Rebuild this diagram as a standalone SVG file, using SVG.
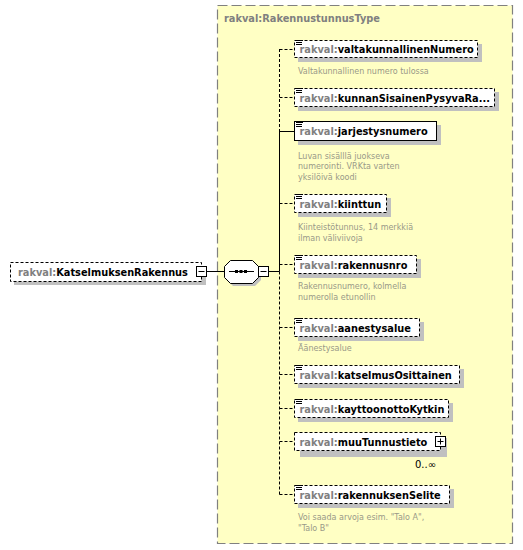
<svg xmlns="http://www.w3.org/2000/svg" width="523" height="550" viewBox="0 0 523 550">
<style>
.nm{font-family:"DejaVu Sans",sans-serif;font-size:9.8px;font-weight:bold;fill:#000}
.pf{fill:#808080}
.ds{font-family:"DejaVu Sans",sans-serif;font-size:8px;fill:#999988}
.box{fill:#fff;stroke:#000;stroke-width:1}
.opt{stroke-dasharray:3,2}
.sh{fill:#c0c0c0}
.ln{stroke:#000;stroke-width:1;fill:none}
.dl{stroke-dasharray:3,2}
.ic{stroke:#000;stroke-width:1}
</style>
<rect x="0" y="0" width="523" height="550" fill="#fff"/>
<g id="type">
<rect x="217.5" y="5.5" width="295" height="538" fill="#ffffc4" stroke="#808080" stroke-width="1.2" stroke-dasharray="10,4"/>
<text x="224" y="22" class="nm pf">rakval:RakennustunnusType</text>
</g>
<g id="connectors">
<line x1="207" y1="271.5" x2="224" y2="271.5" class="ln"/>
<line x1="268" y1="271.5" x2="279.5" y2="271.5" class="ln"/>
<line x1="279.5" y1="49" x2="279.5" y2="131" class="ln dl"/>
<line x1="279.5" y1="131" x2="279.5" y2="271.5" class="ln"/>
<line x1="279.5" y1="271.5" x2="279.5" y2="495" class="ln dl"/>
<line x1="279.5" y1="49.5" x2="294" y2="49.5" class="ln dl"/>
<line x1="279.5" y1="97.5" x2="294" y2="97.5" class="ln dl"/>
<line x1="279.5" y1="131.5" x2="294" y2="131.5" class="ln"/>
<line x1="279.5" y1="203.5" x2="294" y2="203.5" class="ln dl"/>
<line x1="279.5" y1="264.5" x2="294" y2="264.5" class="ln dl"/>
<line x1="279.5" y1="327.5" x2="294" y2="327.5" class="ln dl"/>
<line x1="279.5" y1="374.5" x2="294" y2="374.5" class="ln dl"/>
<line x1="279.5" y1="408.5" x2="294" y2="408.5" class="ln dl"/>
<line x1="279.5" y1="441.5" x2="294" y2="441.5" class="ln dl"/>
<line x1="279.5" y1="494.5" x2="294" y2="494.5" class="ln dl"/>
</g>
<g id="root">
<rect x="14" y="266" width="192" height="19" class="sh"/>
<rect x="10.5" y="262.5" width="191" height="19" class="box opt"/>
<text x="18" y="276" class="nm"><tspan class="pf">rakval:</tspan>KatselmuksenRakennus</text>
<rect x="196.5" y="266.5" width="10" height="10" class="box"/>
<line x1="198.5" y1="271.5" x2="204.5" y2="271.5" class="ic"/>
</g>
<g id="sequence">
<polygon points="233,263 255,263 261,269 261,280 255,286 233,286 227,280 227,269" class="sh"/>
<polygon points="230.5,260.5 252.5,260.5 258.5,266.5 258.5,277.5 252.5,283.5 230.5,283.5 224.5,277.5 224.5,266.5" class="box"/>
<line x1="229" y1="271.5" x2="254" y2="271.5" class="ic"/>
<rect x="235" y="270" width="3" height="3" fill="#000"/>
<rect x="239.5" y="270" width="3" height="3" fill="#000"/>
<rect x="244" y="270" width="3" height="3" fill="#000"/>
<rect x="258.5" y="266.5" width="10" height="10" class="box"/>
<line x1="260.5" y1="271.5" x2="266.5" y2="271.5" class="ic"/>
</g>
<g id="valtakunnallinenNumero">
<rect x="298" y="44" width="184" height="18" class="sh"/>
<rect x="294.5" y="40.5" width="183" height="17" class="box opt"/>
<path d="M296 40.5h7M296 42.5h6M296 44.5h6" class="ic"/>
<text x="299.5" y="53" class="nm"><tspan class="pf">rakval:</tspan>valtakunnallinenNumero</text>
<text x="298" y="74" class="ds">Valtakunnallinen numero tulossa</text>
</g>
<g id="kunnanSisainenPysyvaRa">
<rect x="298" y="92" width="201" height="19" class="sh"/>
<rect x="294.5" y="88.5" width="200" height="18" class="box opt"/>
<path d="M296 88.5h7M296 90.5h6M296 92.5h6" class="ic"/>
<text x="299.5" y="101.5" class="nm"><tspan class="pf">rakval:</tspan>kunnanSisainenPysyvaRa...</text>
</g>
<g id="jarjestysnumero">
<rect x="298" y="125" width="143" height="20" class="sh"/>
<rect x="294.5" y="121.5" width="142" height="19" class="box"/>
<path d="M296 122.5h7M296 124.5h6M296 126.5h6" class="ic"/>
<text x="299.5" y="135" class="nm"><tspan class="pf">rakval:</tspan>jarjestysnumero</text>
<text class="ds"><tspan x="298" y="158.5">Luvan sisälllä juokseva</tspan><tspan x="298" y="169">numerointi. VRKta varten</tspan><tspan x="298" y="179.5">yksilöivä koodi</tspan></text>
</g>
<g id="kiinttun">
<rect x="298" y="198" width="93" height="19" class="sh"/>
<rect x="294.5" y="194.5" width="92" height="18" class="box opt"/>
<path d="M296 194.5h7M296 196.5h6M296 198.5h6" class="ic"/>
<text x="299.5" y="208" class="nm"><tspan class="pf">rakval:</tspan>kiinttun</text>
<text class="ds"><tspan x="298" y="230">Kiinteistötunnus, 14 merkkiä</tspan><tspan x="298" y="240.5">ilman väliviivoja</tspan></text>
</g>
<g id="rakennusnro">
<rect x="298" y="259" width="123" height="19" class="sh"/>
<rect x="294.5" y="255.5" width="122" height="18" class="box opt"/>
<path d="M296 255.5h7M296 257.5h6M296 259.5h6" class="ic"/>
<text x="299.5" y="269" class="nm"><tspan class="pf">rakval:</tspan>rakennusnro</text>
<text class="ds"><tspan x="298" y="289">Rakennusnumero, kolmella</tspan><tspan x="298" y="299.5">numerolla etunollin</tspan></text>
</g>
<g id="aanestysalue">
<rect x="298" y="322" width="126" height="19" class="sh"/>
<rect x="294.5" y="318.5" width="125" height="18" class="box opt"/>
<path d="M296 318.5h7M296 320.5h6M296 322.5h6" class="ic"/>
<text x="299.5" y="332" class="nm"><tspan class="pf">rakval:</tspan>aanestysalue</text>
<text x="298" y="351" class="ds">Äänestysalue</text>
</g>
<g id="katselmusOsittainen">
<rect x="298" y="369" width="166" height="19" class="sh"/>
<rect x="294.5" y="365.5" width="165" height="18" class="box opt"/>
<path d="M296 365.5h7M296 367.5h6M296 369.5h6" class="ic"/>
<text x="299.5" y="379" class="nm"><tspan class="pf">rakval:</tspan>katselmusOsittainen</text>
</g>
<g id="kayttoonottoKytkin">
<rect x="298" y="403" width="155" height="19" class="sh"/>
<rect x="294.5" y="399.5" width="154" height="18" class="box opt"/>
<path d="M296 399.5h7M296 401.5h6M296 403.5h6" class="ic"/>
<text x="299.5" y="413" class="nm"><tspan class="pf">rakval:</tspan>kayttoonottoKytkin</text>
</g>
<g id="muuTunnustieto">
<rect x="300" y="438" width="147" height="19" class="sh"/>
<rect x="294.5" y="432.5" width="146" height="18" class="box opt"/>
<text x="299.5" y="446" class="nm"><tspan class="pf">rakval:</tspan>muuTunnustieto</text>
<rect x="435.5" y="436.5" width="10" height="10" class="box"/>
<path d="M437.5 441.5h6M440.5 438.5v6" class="ic"/>
<text x="415" y="468" font-family="DejaVu Sans, sans-serif" font-size="10" fill="#000">0..∞</text>
</g>
<g id="rakennuksenSelite">
<rect x="298" y="489" width="156" height="19" class="sh"/>
<rect x="294.5" y="485.5" width="155" height="18" class="box opt"/>
<path d="M296 485.5h7M296 487.5h6M296 489.5h6" class="ic"/>
<text x="299.5" y="499" class="nm"><tspan class="pf">rakval:</tspan>rakennuksenSelite</text>
<text class="ds"><tspan x="298" y="520">Voi saada arvoja esim. "Talo A",</tspan><tspan x="298" y="530.5">"Talo B"</tspan></text>
</g>
</svg>
